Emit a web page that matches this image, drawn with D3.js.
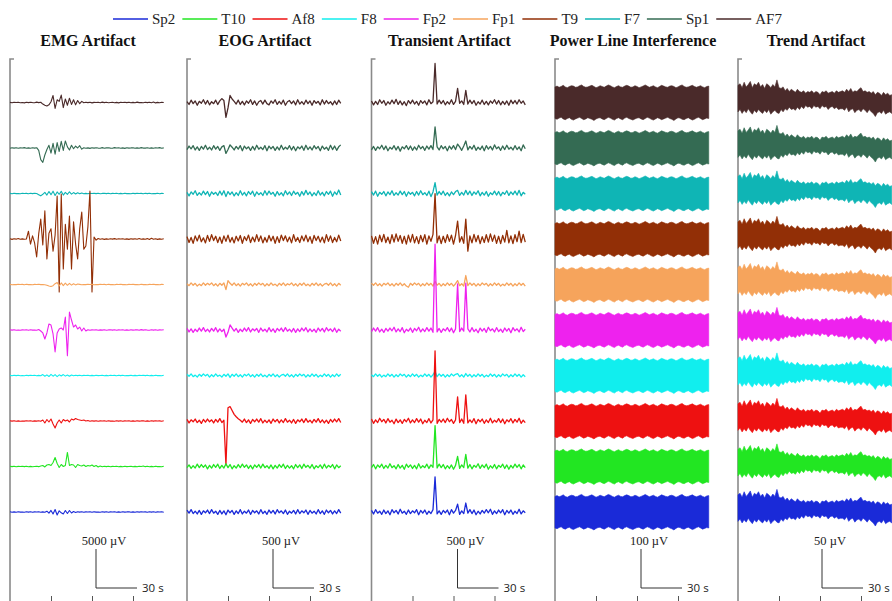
<!DOCTYPE html>
<html><head><meta charset="utf-8">
<script src="https://cdn.jsdelivr.net/npm/d3@7"></script>
<style>body{margin:0;background:#fff}svg{display:block}</style>
</head><body><svg id="c" width="892" height="601"></svg>
<script>
// ---------------- DATA ----------------
const channels = ["AF7","Sp1","F7","T9","Fp1","Fp2","F8","Af8","T10","Sp2"];
const legendOrder = ["Sp2","T10","Af8","F8","Fp2","Fp1","T9","F7","Sp1","AF7"];
const channelColors = ["#4a2a2a","#346b53","#0fb5b5","#922f06","#f6a45c","#ee22ee","#11eeee","#ee1111","#22e622","#1a2ad8"];
const panelTitles = ["EMG Artifact","EOG Artifact","Transient Artifact","Power Line Interference","Trend Artifact"];
const amplitudeBars = [5000,500,500,100,50];   // µV
const timeBar = 30;                             // s
const tickValues = [30,60,90];                  // s
const sampleInterval = 1.5;                     // s between samples

// EMG artifact (µV)
const emgAF7 = [20,-40,30,-10,40,-30,10,-50,30,-20,40,-10,-30,50,-20,30,-200,-350,-450,-300,100,900,-750,350,150,950,-650,450,-350,550,-250,350,-300,250,-150,150,-40,30,-20,40,-50,20,-10,40,-30,50,-20,30,-40,10,40,-30,20,-50,30,-10,40,-20,30,-40,20,-30,50,-20,10,-40,30,-20,40,-30,60,-50,20,-30,40,-10];
const emgSp1 = [-30,40,-20,30,-40,20,-10,50,-30,20,-40,30,-20,40,-300,-1500,-1850,-900,-200,350,-650,600,-800,700,-450,850,-300,900,150,-250,350,-100,250,0,300,-150,40,-30,20,-50,30,-20,40,-10,-30,50,-40,20,30,-20,-40,50,-10,30,-30,20,-50,40,-20,10,30,-40,20,-30,50,-10,-20,40,-30,20,-40,30,-10,50,-30,20];
const emgF7 = [20,-30,40,-20,10,-40,30,-10,20,-30,40,-20,30,-10,-150,-300,-100,150,-200,250,-150,300,-250,200,-100,280,-200,150,-120,220,-80,120,-60,100,-40,60,-30,20,-40,30,-10,40,-20,30,-40,10,30,-20,40,-30,20,-10,40,-30,20,-40,30,-20,10,-30,40,-20,30,-10,20,-40,30,-20,40,-30,10,-20,30,-40,20,-10];
const emgT9 = [30,-50,40,-20,60,-40,20,-30,0,1000,-650,400,-500,-2300,650,2550,-750,3600,-2550,750,1300,-1550,500,5500,-6800,5750,-3850,1900,-1300,2950,-3850,2200,-650,-2550,1300,3450,-1300,-900,1550,6150,-6800,250,-150,60,-40,30,-50,20,-30,40,-20,50,-40,30,-10,40,-30,20,-50,30,-20,40,-30,60,-40,20,-30,50,-60,100,-40,30,-50,20,-30,40];
const emgFp1 = [20,-30,10,-20,30,-10,20,-30,40,-20,10,-30,20,-10,30,-20,10,-40,-100,-200,-250,-150,100,250,-200,200,-150,180,-100,150,-80,100,-50,60,20,-30,10,-20,30,-10,20,-30,10,-20,30,-10,20,-30,40,-20,10,-30,20,-10,30,-20,10,-30,20,-10,30,-20,10,-30,40,-20,10,-30,20,-10,30,-20,10,-30,20,-10];
const emgFp2 = [30,-20,40,-30,10,-40,20,-10,30,-30,40,-20,10,-30,60,-130,-380,-1150,-380,770,640,-510,-2800,-380,130,260,0,1650,-3300,2300,1280,380,640,130,380,-130,250,-130,30,-40,20,-10,40,-30,20,-20,30,-40,10,30,-20,40,-30,20,-10,30,-40,20,-30,40,-20,10,30,-40,50,-20,30,-10,-30,40,-20,30,-40,20,-10,30];
const emgF8 = [20,-30,40,-20,30,-40,10,-30,40,-20,30,-10,40,-30,20,-40,120,-100,80,-130,150,-90,110,-140,90,-60,120,-80,60,-100,70,-30,40,-20,30,-40,20,-10,40,-30,20,-40,30,-20,10,40,-30,20,-40,30,-10,20,-30,40,-20,30,-40,10,-20,30,-40,20,-30,40,-10,30,-20,40,-30,20,-40,30,-20,10,-30,40];
const emgAf8 = [30,-20,40,-30,20,-40,10,-20,30,-10,40,-30,20,-20,30,-40,130,-260,190,-130,260,-380,-900,-260,130,-260,190,0,130,-130,260,130,320,190,130,60,130,0,60,-30,40,-20,30,-40,20,-10,30,-30,40,-20,10,-40,30,-20,40,-30,20,-10,30,-40,20,-30,40,-20,10,30,-40,20,-30,40,-20,30,-10,20,-30,40];
const emgT10 = [30,-20,40,-30,20,-10,40,-20,30,-40,20,-30,10,40,-20,60,130,-60,190,260,130,510,1150,380,-130,260,0,130,1800,130,260,190,-130,260,130,60,190,0,130,60,190,0,130,-60,60,-30,40,-20,30,-40,20,-10,40,-30,20,-40,30,-20,10,40,-30,20,-40,30,-10,60,-20,30,-40,20,-30,40,-20,10,-30,40];
const emgSp2 = [30,-40,20,-30,40,-20,10,-30,40,-20,30,-40,20,-10,30,-40,20,-30,100,-150,200,-260,320,-380,150,-100,-260,190,-190,190,-130,60,-60,40,-20,30,-40,20,-10,30,-30,40,-20,10,-40,30,-20,40,-30,20,-10,30,-40,20,-30,40,-20,10,30,-40,20,-30,40,-20,30,-10,20,-30,40,-20,30,-40,20,-10,30,-30];

// EOG artifact (µV)
const eogAF7 = [10,-25,30,-15,20,-35,15,-10,35,-20,25,-30,10,-15,30,-25,20,50,25,-190,-70,90,45,15,-20,30,-25,15,-30,20,-10,35,-25,20,-35,10,25,-20,30,-15,-30,20,-10,35,-25,15,-20,30,-35,10,25,-15,20,-30,35,-20,10,-25,30,-15,20,-35,25,-10,15,-30,35,-20,25,-15,10,-30,20,-25,30,-10];
const eogSp1 = [-20,25,-10,30,-25,15,-30,20,-15,35,-20,10,-25,30,-15,20,-30,15,30,-70,-20,40,10,-25,20,-15,30,-35,25,-10,15,-30,20,-25,35,-15,10,-20,30,-35,25,-10,20,-30,15,-25,35,-20,10,-15,30,-25,20,-35,15,-10,25,-30,35,-20,15,-25,30,-10,20,-35,25,-15,10,-30,35,-20,25,-30,15,40];
const eogF7 = [15,-30,20,-10,35,-25,10,-20,30,-15,25,-35,20,-10,15,-25,30,-20,35,-40,25,-15,20,-30,10,-25,35,-20,15,-30,25,-10,30,-35,20,-15,10,-25,35,-20,30,-10,15,-35,25,-20,10,-30,35,-15,20,-25,30,-10,15,-35,25,-20,40,-15,20,-30,10,-25,35,-20,15,-30,25,-10,30,-35,20,-15,45,-20];
const eogT9 = [30,-45,20,-55,40,-25,50,-35,15,-50,45,-30,55,-20,35,-45,25,-55,40,-30,50,-40,20,-50,35,-25,45,-55,30,-20,50,-45,25,-35,55,-30,40,-50,20,-40,45,-25,35,-55,30,-45,50,-20,40,-35,25,-50,55,-30,20,-45,40,-25,50,-35,30,-55,45,-20,35,-40,25,-50,55,-30,40,-45,20,-35,50,-25];
const eogFp1 = [10,-15,20,-10,15,-20,5,-15,20,-10,15,-5,20,-15,10,-20,15,-10,20,-65,50,15,-10,20,-15,10,-20,15,-5,20,-15,10,-20,15,-10,20,-5,15,-20,10,-15,20,-10,5,-20,15,-10,20,-15,10,-5,20,-15,10,-20,15,-10,20,-15,5,-20,15,-10,20,-15,10,-20,5,15,-10,20,-15,10,-20,15,-10];
const eogFp2 = [20,-25,15,-30,10,-20,25,-15,30,-20,10,-25,20,-15,30,-25,15,-20,10,-90,-30,65,25,-15,20,-30,10,-20,25,-15,30,-25,15,-10,20,-30,25,-15,10,-25,30,-20,15,-30,20,-10,25,-20,30,-15,10,-25,20,-30,15,-20,25,-10,30,-25,15,-20,10,-30,25,-15,20,-25,30,-10,15,-20,25,-30,10,-15];
const eogF8 = [15,-10,20,-15,5,-20,15,-10,20,-5,15,-20,10,-15,20,-10,5,-20,15,-10,20,-25,15,-10,20,-15,10,-20,15,-5,20,-15,10,-20,15,-10,20,-15,5,-20,15,-10,20,-15,10,-20,5,15,-10,20,-15,10,-20,15,-10,20,-5,15,-20,10,-15,20,-10,15,-20,5,-15,20,-10,15,-20,10,-15,20,-10,15];
const eogAf8 = [20,-25,15,-10,25,-20,10,-30,20,-15,25,-10,15,-25,20,-15,30,-20,10,-565,170,185,135,85,55,30,10,-15,25,-20,15,-30,20,-10,25,-15,30,-25,10,-20,15,-30,25,-10,20,-25,15,-20,30,-15,10,-25,20,-30,15,-10,25,-20,30,-15,10,-25,20,-15,30,-20,15,-25,10,-30,20,-15,25,-10,30,-20];
const eogT10 = [-15,20,-25,10,-20,30,-15,25,-10,20,-30,15,-20,25,-10,30,-25,15,-20,35,-15,25,-30,10,-20,25,-15,30,-10,20,-25,15,-30,20,-10,25,-20,30,-15,10,-25,20,-30,15,-20,25,-10,30,-25,15,-20,10,-30,25,-15,20,-25,30,-10,15,-20,25,-30,10,-15,20,-25,30,-20,15,-10,25,-30,20,-15,10];
const eogSp2 = [25,-15,30,-20,10,-25,20,-30,15,-10,25,-20,30,-15,10,-30,20,-25,15,-35,25,-10,20,-30,15,-20,30,-25,10,-15,25,-30,20,-10,15,-25,30,-20,10,-30,25,-15,20,-25,30,-10,15,-20,25,-30,10,-15,20,-25,30,-20,15,-10,25,-30,20,-15,10,-25,30,-20,15,-30,25,-10,20,-25,15,-20,30,-15];

// Transient artifact (µV)
const trAF7 = [20,-30,15,-25,35,-10,25,-35,10,-20,30,-15,40,-25,20,-30,10,-40,25,-15,30,-20,15,-35,25,-10,20,-30,35,-15,10,500,-20,30,-15,25,-30,10,-20,35,-25,15,180,-10,20,-25,155,-20,30,-15,25,-35,10,-20,30,-25,15,-30,20,-10,35,-20,25,-30,15,-25,20,-35,30,-15,25,-20,35,-10,20,-30];
const trSp1 = [-25,20,-30,15,-10,35,-20,25,-35,10,-15,30,-25,20,-40,15,-10,30,-20,25,-30,15,-25,35,-10,20,-30,25,-15,30,-20,270,15,-25,30,-10,20,-35,25,-15,30,-20,50,15,-30,25,90,-25,20,-15,35,-30,10,-20,25,-35,30,-15,20,-25,40,-10,15,-30,25,-20,35,-15,10,-25,30,-20,15,-35,40,-10];
const trF7 = [25,-20,30,-35,15,-10,25,-30,20,-15,35,-25,10,-20,30,-15,25,-35,20,-10,15,-30,25,-20,35,-15,10,-25,30,-40,20,140,-20,25,-15,30,-25,10,-30,20,-15,25,40,-25,15,-20,40,-15,30,-25,20,-10,35,-30,15,-20,25,-35,10,-15,30,-20,25,-30,15,-10,35,-25,20,-15,30,-20,40,-30,15,-10];
const trT9 = [40,-55,30,-65,50,-35,60,-45,25,-60,55,-40,65,-30,45,-55,35,-65,50,-40,60,-50,30,-60,45,-35,55,-65,40,-30,60,580,-50,40,-60,35,-45,55,-30,50,-65,45,230,-40,30,-55,255,-155,40,-50,60,-35,45,-60,30,-45,55,-40,65,-30,50,-55,35,-60,45,-40,110,-50,40,-60,55,-35,100,-45,60,-40];
const trFp1 = [15,-10,20,-15,10,-20,15,-5,20,-15,10,-20,15,-10,20,-15,10,-20,-35,15,-10,20,-5,15,-20,10,-15,20,-10,15,-20,40,-10,15,-20,10,-15,20,-10,15,-20,10,50,-15,10,-20,115,-15,20,-10,15,-20,10,-15,20,-5,15,-20,10,-15,20,-10,15,-20,5,-15,20,-10,15,-20,10,-15,20,-10,15,-20];
const trFp2 = [-20,25,-15,30,-25,10,-30,20,-15,25,-10,35,-25,15,-20,30,-35,10,-15,25,-30,20,-10,35,-25,15,-20,30,-15,25,-30,1100,-25,20,-30,15,-10,30,-20,25,-35,15,590,-20,25,-15,600,15,-25,30,-20,10,-35,25,-15,20,-30,35,-10,15,-25,30,-20,10,-30,25,-15,20,-35,30,-10,15,-25,35,-20,10];
const trF8 = [10,-15,20,-10,15,-20,5,-15,20,-10,15,-20,10,-15,20,-5,15,-20,10,-15,20,-10,15,-20,5,-15,20,-10,15,-20,10,50,-15,20,-10,15,-20,10,-15,20,-5,15,25,-15,10,-20,25,-10,15,-20,10,-15,20,-10,15,-20,5,-15,20,-10,15,-20,10,-15,20,-5,15,-20,10,-15,20,-10,15,-20,10,-15];
const trAf8 = [25,-30,15,-20,35,-10,20,-25,30,-15,10,-35,25,-20,15,-30,20,-10,35,-25,15,-20,30,-15,25,-35,10,-20,30,-25,15,900,-30,20,-15,25,-20,35,-10,20,-30,15,310,-20,25,-30,335,-25,15,-20,30,-35,20,-10,25,-30,15,-20,35,-25,10,-15,30,-20,25,-35,15,-10,30,-25,20,-15,35,-30,10,-20];
const trT10 = [-15,25,-30,20,-10,30,-25,15,-20,35,-15,10,-30,25,-20,15,-35,30,-10,20,-25,15,-30,35,-20,10,-15,30,-25,20,-10,525,-20,30,-15,25,-30,10,-25,20,-35,15,130,-25,20,-15,155,-20,25,-30,15,-10,35,-25,20,-15,30,-35,10,-20,25,-30,15,-10,30,-25,20,-35,15,-20,30,-10,25,-30,20,-15];
const trSp2 = [20,-25,30,-15,10,-30,25,-20,15,-35,30,-10,20,-25,35,-15,10,-30,25,-20,15,-10,30,-35,20,-15,25,-30,10,-20,30,450,-25,15,-30,20,-10,25,-35,30,-15,20,100,-30,15,-20,115,-15,30,-20,25,-35,10,-25,20,-15,30,-10,35,-30,15,-20,25,-10,30,-35,20,-15,25,-30,10,-20,35,-25,15,-10];

// Power line interference: envelope of the 50 Hz band (µV)
const plUpper = [40,42,39,41,44,40,38,41,43,42,39,40,43,45,41,39,40,42,44,41,38,40,43,41,39,42,45,43,40,38,41,43,40,39,42,44,42,39,40,43,41,38,40,42,45,42,39,41,43,40,38,41,44,42,40,39,42,43,41,38,40,43,45,41,39,40,42,44,41,39,41,43,40,38,41,42];
const plLower = [-41,-43,-40,-38,-42,-44,-41,-39,-43,-45,-42,-40,-38,-41,-44,-42,-39,-41,-43,-46,-42,-40,-39,-42,-44,-41,-38,-40,-43,-45,-41,-39,-42,-44,-40,-38,-41,-43,-45,-42,-40,-39,-42,-44,-41,-38,-40,-43,-45,-42,-39,-41,-44,-42,-40,-38,-41,-43,-46,-42,-39,-40,-43,-44,-41,-39,-42,-45,-43,-40,-38,-41,-44,-42,-40,-41];

// Trend artifact: envelope of the band (µV)
const trendUpper = [22,24,19,26,20,23,27,19,24,22,26,20,23,18,24,22,19,23,20,29,19,18,20,15,18,14,17,15,13,17,14,13,15,12,14,13,15,12,14,13,10,14,13,15,12,13,14,12,15,13,14,15,13,17,14,18,13,15,14,17,19,14,15,13,14,12,14,10,13,12,9,13,10,12,9,10];
const trendLower = [-12,-9,-14,-10,-13,-8,-12,-15,-10,-13,-9,-12,-14,-10,-13,-9,-15,-12,-10,-13,-14,-9,-12,-8,-10,-6,-9,-8,-10,-6,-9,-5,-8,-4,-6,-5,-8,-4,-6,-5,-8,-4,-6,-5,-9,-6,-5,-8,-6,-9,-8,-8,-10,-6,-12,-9,-8,-13,-10,-9,-12,-8,-10,-13,-9,-12,-14,-18,-13,-12,-14,-10,-15,-13,-12,-14];

// ---------------- TABLES ----------------
const emg = {AF7:emgAF7,Sp1:emgSp1,F7:emgF7,T9:emgT9,Fp1:emgFp1,Fp2:emgFp2,F8:emgF8,Af8:emgAf8,T10:emgT10,Sp2:emgSp2};
const eog = {AF7:eogAF7,Sp1:eogSp1,F7:eogF7,T9:eogT9,Fp1:eogFp1,Fp2:eogFp2,F8:eogF8,Af8:eogAf8,T10:eogT10,Sp2:eogSp2};
const tra = {AF7:trAF7,Sp1:trSp1,F7:trF7,T9:trT9,Fp1:trFp1,Fp2:trFp2,F8:trF8,Af8:trAf8,T10:trT10,Sp2:trSp2};
const panels = [
  {type:"line", data:emg, sw:1.1},
  {type:"line", data:eog, sw:1.3},
  {type:"line", data:tra, sw:1.3},
  {type:"band", upper:plUpper, lower:plLower},
  {type:"band", upper:trendUpper, lower:trendLower}
];

// ---------------- LAYOUT ----------------
const svg = d3.select("#c");
const panelLeft = [10,187,371.5,555,738];
const color = d3.scaleOrdinal().domain(channels).range(channelColors);
const yBase = d3.scalePoint().domain(channels).range([102.5,512]);
const axisTop = 59, axisBottom = 601;
const serif = "'Liberation Serif','Times New Roman',serif";

panels.forEach((p, pi) => {
  const L = panelLeft[pi];
  const x = d3.scaleLinear().domain([0,120]).range([L, L+164]);
  const y = d3.scaleLinear().domain([0, amplitudeBars[pi]]).range([0, -39]);
  const g = svg.append("g");

  // left axis line with small top tick
  g.append("path").attr("d", `M${L+4},${axisTop}H${L}V${axisBottom}`)
    .attr("fill","none").attr("stroke","#8a8a8a").attr("stroke-width",1.6);

  // bottom time ticks
  const ax = g.append("g").attr("transform",`translate(0,596)`)
    .call(d3.axisBottom(x).tickValues(tickValues).tickSize(6).tickFormat(""));
  ax.select(".domain").remove();
  ax.selectAll(".tick line").attr("stroke","#555").attr("stroke-width",1);

  // title
  g.append("text").attr("x", L+78).attr("y", 46).attr("text-anchor","middle")
    .attr("font-family", serif).attr("font-weight","bold").attr("font-size","16px")
    .attr("fill","#111").text(panelTitles[pi]);

  channels.forEach(ch => {
    const base = yBase(ch);
    if (p.type === "line") {
      const line = d3.line().x((d,i)=>x(i*sampleInterval)).y(d=>base + y(d));
      g.append("path").datum(p.data[ch]).attr("d", line)
        .attr("fill","none").attr("stroke", color(ch)).attr("stroke-width", p.sw)
        .attr("stroke-linejoin","round");
    } else {
      const idx = d3.range(p.upper.length);
      const area = d3.area().x(i=>x(i*sampleInterval))
        .y0(i=>base + y(p.lower[i])).y1(i=>base + y(p.upper[i]));
      g.append("path").datum(idx).attr("d", area)
        .attr("fill", color(ch)).attr("stroke", color(ch)).attr("stroke-width",0.6);
    }
  });

  // scale bar
  const bx = L + 86 - (pi === 4 ? 2 : 0), by = 588;
  const vLen = y(0) - y(amplitudeBars[pi]);
  const hLen = x(timeBar) - x(0);
  g.append("path").attr("d", `M${bx},${by - vLen}V${by}H${bx + hLen}`)
    .attr("fill","none").attr("stroke","#333").attr("stroke-width",1);
  g.append("text").attr("x", bx + 8).attr("y", 545).attr("text-anchor","middle")
    .attr("font-family", serif).attr("font-size","12.5px").attr("fill","#222")
    .text(amplitudeBars[pi] + " µV");
  g.append("text").attr("x", bx + hLen + 5).attr("y", 592)
    .attr("font-family","'Open Sans','DejaVu Sans',sans-serif").attr("font-size","11.5px").attr("fill","#222")
    .text(timeBar + " s");
});

// legend
const lg = svg.append("g");
let lx = 113;
legendOrder.forEach(name => {
  lg.append("line").attr("x1",lx).attr("x2",lx+35).attr("y1",19).attr("y2",19)
    .attr("stroke", color(name)).attr("stroke-width",1.3);
  const t = lg.append("text").attr("x", lx+39).attr("y", 24)
    .attr("font-family", serif).attr("font-size","15px").attr("fill","#222").text(name);
  lx = lx + 39 + t.node().getComputedTextLength() + 7;
});
</script>
</body></html>
